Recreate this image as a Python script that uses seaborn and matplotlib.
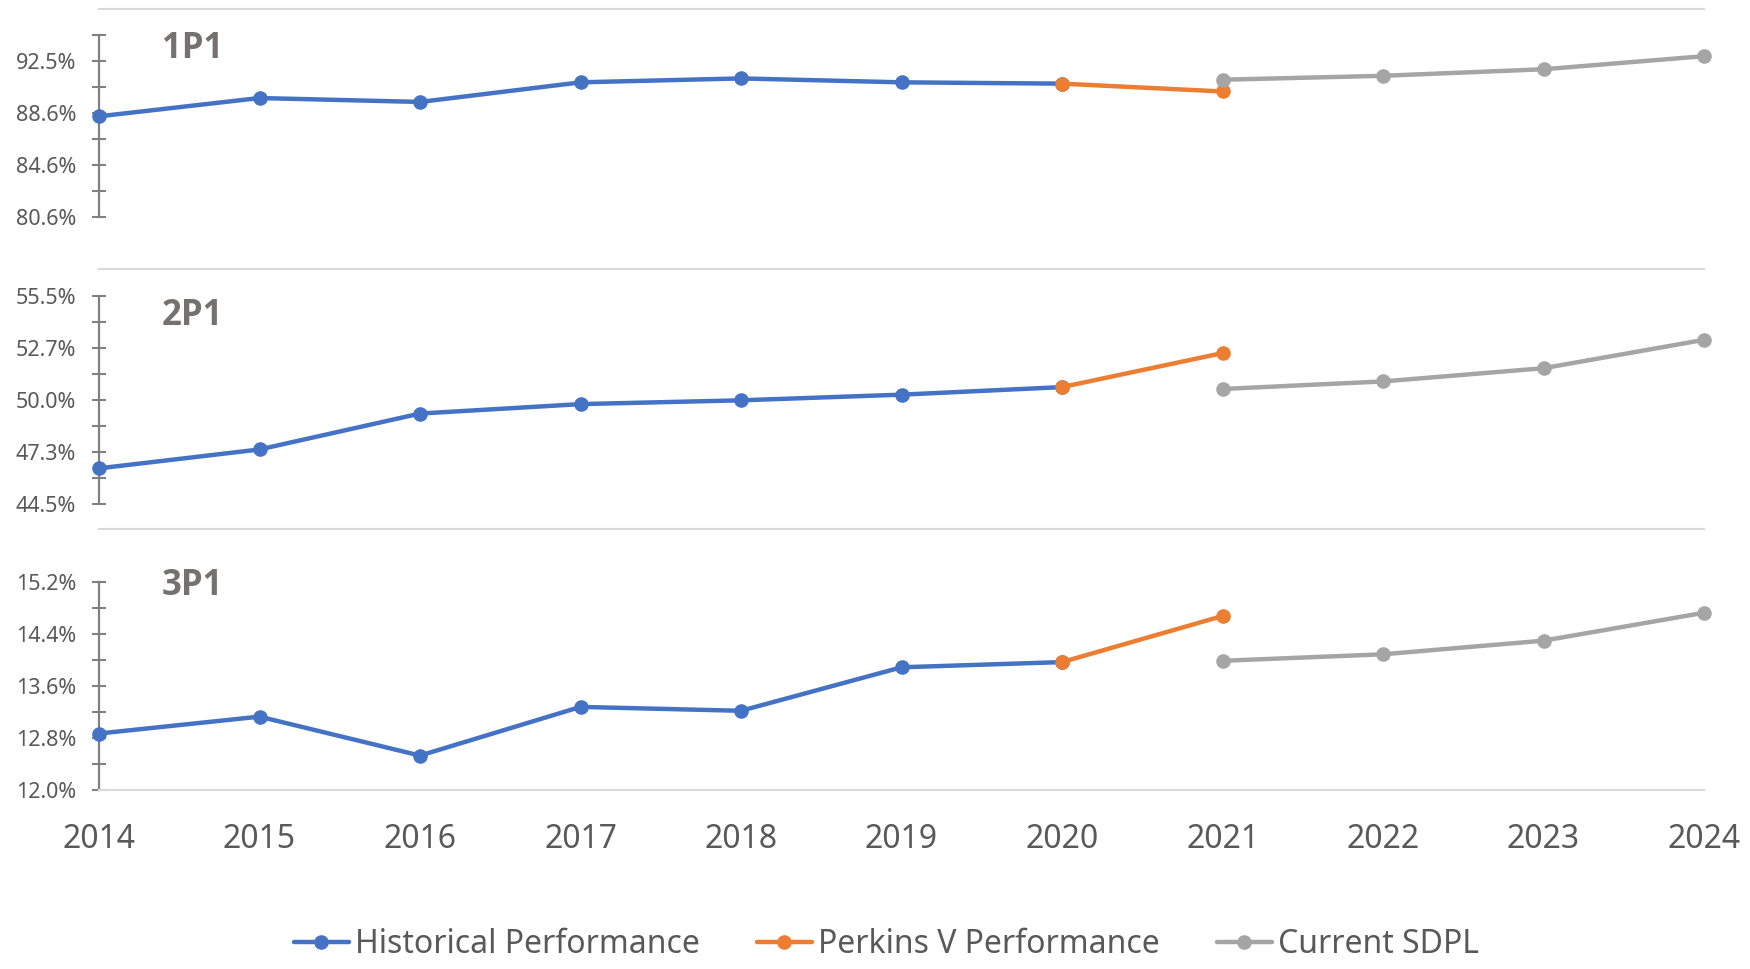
import numpy as np
import matplotlib
matplotlib.use("Agg")
import matplotlib.pyplot as plt
import seaborn as sns
from matplotlib.lines import Line2D

# ==================================
# DATA (values in percent)
# ==================================

hist_years = [2014, 2015, 2016, 2017, 2018, 2019, 2020]
perkins_years = [2020, 2021]
sdpl_years = [2021, 2022, 2023, 2024]
all_years = [2014, 2015, 2016, 2017, 2018, 2019, 2020, 2021, 2022, 2023, 2024]

panel_names = ["1P1", "2P1", "3P1"]

p1_hist = [88.3, 89.7, 89.4, 90.9, 91.2, 90.9, 90.8]
p1_perkins = [90.8, 90.2]
p1_sdpl = [91.1, 91.4, 91.9, 92.9]

p2_hist = [46.4, 47.4, 49.3, 49.8, 50.0, 50.3, 50.7]
p2_perkins = [50.7, 52.5]
p2_sdpl = [50.6, 51.0, 51.7, 53.2]

p3_hist = [12.87, 13.13, 12.53, 13.28, 13.22, 13.89, 13.97]
p3_perkins = [13.97, 14.68]
p3_sdpl = [13.99, 14.09, 14.30, 14.73]

p1_ticklabels = ["80.6%", "84.6%", "88.6%", "92.5%"]
p2_ticklabels = ["44.5%", "47.3%", "50.0%", "52.7%", "55.5%"]
p3_ticklabels = ["12.0%", "12.8%", "13.6%", "14.4%", "15.2%"]

series_names = ["Historical Performance", "Perkins V Performance", "Current SDPL"]

# ==================================
# STYLE
# ==================================

sns.set_style("white")
plt.rcParams["font.family"] = ["Noto Sans", "DejaVu Sans"]

BLUE = "#4472C4"
ORANGE = "#ED7D31"
GRAY = "#A5A5A5"
TEXT = "#595959"
SPINE = "#808080"
SEP = "#D9D9D9"

fig = plt.figure(figsize=(17.5, 9.69), dpi=100)

W, H = 1750, 969
x0, x1 = 99, 1704

# panel layout in pixels: (top, bottom), y-limits, major tick start/step, spine top
panels = [
    dict(top=9, bot=269, ylim=(76.62, 96.51), lo=80.6, step=3.98, n=4, spine_top=94.53,
         hist=p1_hist, perk=p1_perkins, sdpl=p1_sdpl, labels=p1_ticklabels, label_y=0.8115),
    dict(top=269, bot=529, ylim=(43.19, 56.95), lo=44.5, step=2.75, n=5, spine_top=55.5,
         hist=p2_hist, perk=p2_perkins, sdpl=p2_sdpl, labels=p2_ticklabels, label_y=0.7846),
    dict(top=529, bot=790, ylim=(12.0, 16.02), lo=12.0, step=0.8, n=5, spine_top=15.2,
         hist=p3_hist, perk=p3_perkins, sdpl=p3_sdpl, labels=p3_ticklabels, label_y=0.747),
]

LW = 3.2
MS = 10.5

for i, p in enumerate(panels):
    ax = fig.add_axes([x0 / W, 1 - p["bot"] / H, (x1 - x0) / W, (p["bot"] - p["top"]) / H])

    line_kw = dict(marker="o", markersize=MS, markeredgewidth=0, linewidth=LW, ax=ax)
    sns.lineplot(x=hist_years, y=p["hist"], color=BLUE, **line_kw)
    sns.lineplot(x=perkins_years, y=p["perk"], color=ORANGE, **line_kw)
    sns.lineplot(x=sdpl_years, y=p["sdpl"], color=GRAY, **line_kw)
    for ln in ax.lines:
        ln.set_clip_on(False)
        ln.set_zorder(5)

    ax.set_xlim(2014, 2024)
    ax.set_ylim(*p["ylim"])

    major = [p["lo"] + k * p["step"] for k in range(p["n"])]
    minor = [m + p["step"] / 2 for m in major]
    minor = [m for m in minor if m <= p["spine_top"] + 1e-6]
    ax.set_yticks(major)
    ax.set_yticklabels(p["labels"])
    ax.set_yticks(minor, minor=True)
    ax.tick_params(axis="y", which="both", direction="inout", length=10,
                   width=1.5, color=SPINE, labelsize=15.5, labelcolor=TEXT, pad=11.5, left=True)

    ax.spines["left"].set_bounds(p["lo"], p["spine_top"])
    ax.spines["left"].set_color(SPINE)
    ax.spines["left"].set_linewidth(1.6)
    ax.spines["right"].set_visible(False)
    ax.spines["top"].set_color(SEP)
    ax.spines["top"].set_linewidth(1.5)

    ax.set_xticks(all_years)
    if i == 2:
        ax.spines["bottom"].set_color(SEP)
        ax.spines["bottom"].set_linewidth(1.5)
        ax.tick_params(axis="x", length=0, labelsize=23, labelcolor=TEXT, pad=24)
    else:
        ax.spines["bottom"].set_visible(False)
        ax.tick_params(axis="x", length=0, labelbottom=False)

    ax.set_xlabel("")
    ax.set_ylabel("")
    ax.grid(False)
    ax.set_facecolor("none")

    ax.text(0.039, p["label_y"], panel_names[i], transform=ax.transAxes,
            fontsize=25, fontweight="bold", color="#767171", va="baseline", ha="left",
            family=["Open Sans", "DejaVu Sans"])

# ==================================
# LEGEND
# ==================================

handles = [Line2D([], [], color=c, marker="o", markersize=MS, markeredgewidth=0, linewidth=LW)
           for c in [BLUE, ORANGE, GRAY]]
fig.legend(handles, series_names, loc="lower center", bbox_to_anchor=(0.5066, -0.012),
           ncol=3, frameon=False, fontsize=23, labelcolor=TEXT, borderpad=0.1,
           handlelength=1.7, handletextpad=0.2, columnspacing=1.8)

fig.savefig("out.png", dpi=100)
